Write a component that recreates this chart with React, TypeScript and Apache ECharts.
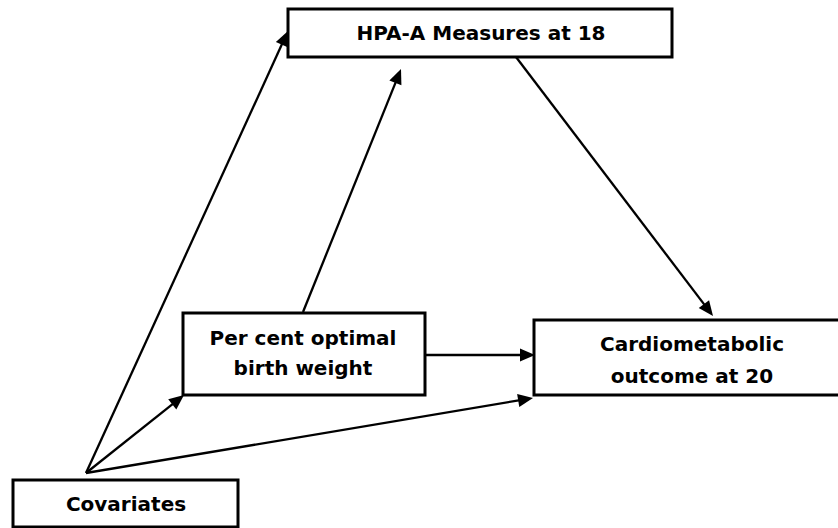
import React, { useEffect, useRef } from "react";
import * as echarts from "echarts";

// Node labels (text content)
const nodeIds = ["hpa", "pcobw", "cardio", "cov"];
const nodeLabels: string[][] = [
  ["HPA-A Measures at 18"],
  ["Per cent optimal", "birth weight"],
  ["Cardiometabolic", "outcome at 20"],
  ["Covariates"],
];

// Directed paths: [from, to]
const edges: [string, string][] = [
  ["cov", "hpa"],
  ["cov", "pcobw"],
  ["cov", "cardio"],
  ["pcobw", "hpa"],
  ["pcobw", "cardio"],
  ["hpa", "cardio"],
];

// Layout (pixels): box rectangles and text centres
const boxLayout: Record<string, { x: number; y: number; w: number; h: number; cx: number; cy: number[] }> = {
  hpa: { x: 288, y: 9, w: 384, h: 48, cx: 481, cy: [33] },
  pcobw: { x: 183, y: 313, w: 242, h: 82, cx: 303, cy: [338, 368] },
  cardio: { x: 534, y: 320, w: 320, h: 75, cx: 692, cy: [344, 376] },
  cov: { x: 13, y: 480, w: 225, h: 47, cx: 126, cy: [504] },
};

// Edge anchor points (start, tip)
const edgeLayout: Record<string, [number, number, number, number]> = {
  "cov-hpa": [86, 473, 288, 31],
  "cov-pcobw": [86, 473, 184, 395],
  "cov-cardio": [86, 473, 533, 398],
  "pcobw-hpa": [303, 312, 401, 69],
  "pcobw-cardio": [425, 355, 535, 355],
  "hpa-cardio": [516, 57, 713, 316],
};

export default function App() {
  const ref = useRef<HTMLDivElement>(null);
  useEffect(() => {
    document.body.style.margin = "0";
    const chart = echarts.init(ref.current!, null, { renderer: "svg" });
    const elements: any[] = [];

    edges.forEach(([a, b]) => {
      const [x1, y1, x2, y2] = edgeLayout[`${a}-${b}`];
      const dx = x2 - x1;
      const dy = y2 - y1;
      const len = Math.sqrt(dx * dx + dy * dy);
      const ux = dx / len;
      const uy = dy / len;
      const headL = 15;
      const headW = 6.5;
      const bx = x2 - ux * headL;
      const by = y2 - uy * headL;
      elements.push({
        type: "line",
        shape: { x1, y1, x2: bx + ux * 2, y2: by + uy * 2 },
        style: { stroke: "#000", lineWidth: 2.3 },
        z: 5,
      });
      elements.push({
        type: "polygon",
        shape: {
          points: [
            [x2, y2],
            [bx - uy * headW, by + ux * headW],
            [bx + uy * headW, by - ux * headW],
          ],
        },
        style: { fill: "#000" },
        z: 6,
      });
    });

    nodeIds.forEach((id, i) => {
      const b = boxLayout[id];
      elements.push({
        type: "rect",
        shape: { x: b.x, y: b.y, width: b.w, height: b.h },
        style: { fill: "#fff", stroke: "#000", lineWidth: 3 },
        z: 10,
      });
      nodeLabels[i].forEach((t, j) => {
        elements.push({
          type: "text",
          x: b.cx,
          y: b.cy[j],
          style: {
            text: t,
            fill: "#000",
            font: 'bold 20px "DejaVu Sans", Verdana, sans-serif',
            align: "center",
            verticalAlign: "middle",
          },
          z: 11,
        });
      });
    });

    chart.setOption({
      animation: false,
      backgroundColor: "#fff",
      graphic: { elements },
    });
    return () => chart.dispose();
  }, []);
  return <div ref={ref} style={{ width: 838, height: 528 }} />;
}
